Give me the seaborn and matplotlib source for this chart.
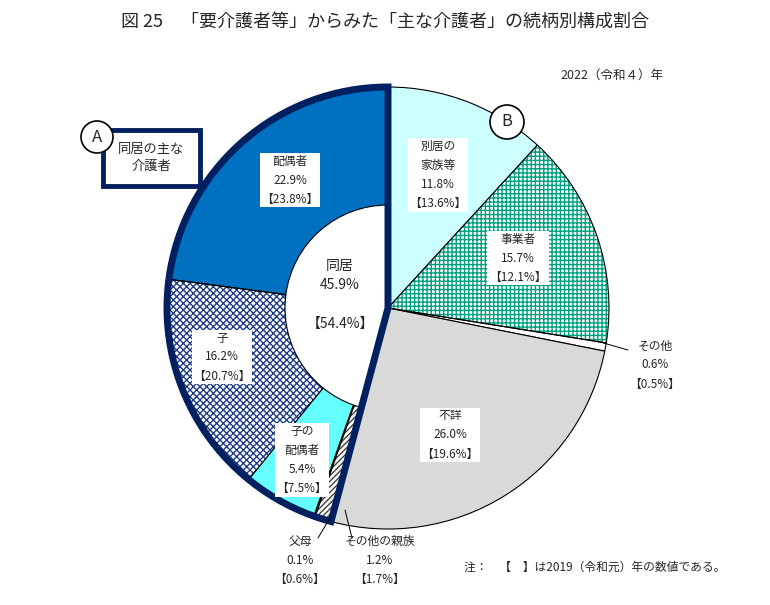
import matplotlib
matplotlib.use("Agg")
import matplotlib.pyplot as plt
import seaborn as sns
from matplotlib.patches import Wedge, Circle, Rectangle

sns.set_theme(style="white")
plt.rcParams["font.family"] = "Noto Sans CJK JP"

categories = ["別居の\n家族等", "事業者", "その他", "不詳", "その他の親族", "父母", "子の\n配偶者", "子", "配偶者"]
values_2022 = [11.8, 15.7, 0.6, 26.0, 1.2, 0.1, 5.4, 16.2, 22.9]
values_2019 = [13.6, 12.1, 0.5, 19.6, 1.7, 0.6, 7.5, 20.7, 23.8]
cohabit_total_2022 = 45.9
cohabit_total_2019 = 54.4
cohabit_flags = [False, False, False, False, True, True, True, True, True]

colors = ["#CCFFFF", "white", "white", "#D9D9D9", "white", "white", "#66FFFF", "white", "#0070C0"]
hatches = [None, "++++", None, None, "//////", None, None, "xxxxx", None]
hatch_cols = [None, "#00A080", None, None, "#404040", None, None, "#1F3C88", None]

W, H = 770, 605
fig = plt.figure(figsize=(7.7, 6.05), dpi=100)
ax = fig.add_axes([0, 0, 1, 1])
ax.set_xlim(0, W); ax.set_ylim(0, H); ax.axis("off")
Y = lambda py: H - py

cx, cy, R, Rin = 388, Y(308), 221, 103
wedges, _ = ax.pie(values_2022, radius=R, center=(cx, cy), startangle=90, counterclock=False,
                   colors=colors, wedgeprops=dict(edgecolor="black", linewidth=0.8), frame=True)
ax.set_xlim(0, W); ax.set_ylim(0, H); ax.axis("off"); ax.set_aspect("equal")
for w, f, h, hc in zip(wedges, cohabit_flags, hatches, hatch_cols):
    if f:
        w.set_width(R - Rin)
    if h:
        w.set_hatch(h); w.set_edgecolor(hc); w.set_linewidth(0)
        ol = Wedge(w.center, w.r, w.theta1, w.theta2, width=w.width, fill=False, edgecolor="black", lw=0.8)
        ax.add_patch(ol)

# thick outline around cohabiting group
co_sum = sum(v for v, f in zip(values_2022, cohabit_flags) if f)
ax.add_patch(Wedge((cx, cy), R, 90, 90 + co_sum / sum(values_2022) * 360, fill=False,
                   edgecolor="#002060", lw=5, joinstyle="miter"))

box = dict(boxstyle="square,pad=0.15", facecolor="white", edgecolor="none")
pos = [(438, 175), (518, 258), (655, 365), (450, 435), (380, 560), (300, 560), (302, 460), (222, 357), (290, 180)]
for (px, py), c, v, v0 in zip(pos, categories, values_2022, values_2019):
    t = f"{c}\n{v}%\n【{v0}%】"
    ax.text(px, Y(py), t, ha="center", va="center", fontsize=8.5, linespacing=1.6,
            bbox=None if c in ("その他", "その他の親族", "父母") else box)
ax.text(340, Y(295), f"同居\n{cohabit_total_2022}%\n\n【{cohabit_total_2019}%】", ha="center", va="center",
        fontsize=10, linespacing=1.5)

# leader lines
ax.plot([600, 628], [Y(342), Y(350)], color="black", lw=0.7)
ax.plot([330, 318], [Y(518), Y(538)], color="black", lw=0.7)
ax.plot([345, 352], [Y(510), Y(538)], color="black", lw=0.7)

# A / B markers
ax.add_patch(Rectangle((103, Y(186)), 97, 56, facecolor="white", edgecolor="#002060", lw=3.5))
ax.text(151, Y(158), "同居の主な\n介護者", ha="center", va="center", fontsize=9.5, linespacing=1.4)
ax.add_patch(Circle((97, Y(137)), 16, facecolor="white", edgecolor="black", lw=1.2, zorder=5))
ax.text(97, Y(137), "A", ha="center", va="center", fontsize=12, zorder=6)
ax.add_patch(Circle((507, Y(122)), 17, facecolor="white", edgecolor="black", lw=1.2, zorder=5))
ax.text(507, Y(122), "B", ha="center", va="center", fontsize=12, zorder=6)

ax.text(385, Y(22), "図 25　「要介護者等」からみた「主な介護者」の続柄別構成割合", ha="center", va="center", fontsize=13)
ax.text(612, Y(75), "2022（令和４）年", ha="center", va="center", fontsize=9)
ax.text(595, Y(567), "注：　【　】は2019（令和元）年の数値である。", ha="center", va="center", fontsize=8.5)

fig.savefig("out.png", dpi=100)
